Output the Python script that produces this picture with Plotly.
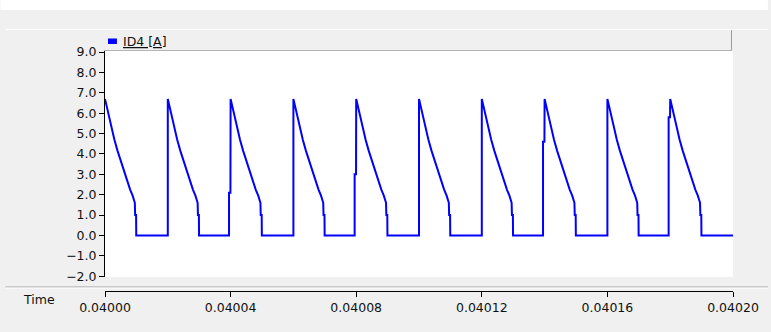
import plotly.graph_objects as go

# ---- data (time in microseconds after 0.04 s, current in A) ----
pulse_start_us = [0, 20, 40, 60, 80, 100, 120, 140, 160, 180]
pre_rise_level = [None, None, 2.1, None, 3.0, None, None, 4.6, None, 5.8]
decay_offset_us = [0.0, 0.3, 1.0, 2.0, 3.0, 4.0, 5.0, 6.0, 7.0, 8.0, 8.8, 9.5, 9.6, 9.9, 9.95]
decay_current = [6.7, 6.5, 6.0, 5.3, 4.7, 4.15, 3.65, 3.15, 2.7, 2.25, 1.95, 1.6, 1.0, 1.0, 0.0]
end_us = 200

y_tick_values = [-2, -1, 0, 1, 2, 3, 4, 5, 6, 7, 8, 9]
x_tick_labels = ["0.04000", "0.04004", "0.04008", "0.04012", "0.04016", "0.04020"]
series_name = "ID4 [A]"

# ---- assemble the trace points ----
t_us, cur = [], []
for k, t0 in enumerate(pulse_start_us):
    lvl = pre_rise_level[k]
    if k > 0:
        if lvl is not None:
            t_us += [t0 - 0.5, t0 - 0.5, t0 - 0.05]
            cur += [0.0, lvl, lvl]
        else:
            t_us.append(t0)
            cur.append(0.0)
    for off, v in zip(decay_offset_us, decay_current):
        t_us.append(t0 + off)
        cur.append(v)
t_us.append(end_us)
cur.append(0.0)
t_sec = [0.04 + u * 1e-6 for u in t_us]
x_tick_values = [float(s) for s in x_tick_labels]

W, H = 771, 332
ML, MR, MT, MB = 105, 35, 51, 41
PW = W - ML - MR
PH = H - MT - MB


def px(x):
    return (x - ML) / PW


def py(y):
    return (H - MB - y) / PH


fig = go.Figure()
fig.add_trace(go.Scatter(x=t_sec, y=cur, mode="lines", name=series_name,
                         line=dict(color="#0000ff", width=2), showlegend=False))

font = dict(family="DejaVu Sans", size=12.5, color="#111111")

fig.update_layout(
    width=W, height=H, autosize=False,
    margin=dict(l=ML, r=MR, t=MT, b=MB, pad=0),
    paper_bgcolor="#f0f0f0", plot_bgcolor="white",
    font=font,
    xaxis=dict(range=[0.04, 0.0402], tickvals=x_tick_values, ticktext=x_tick_labels,
               anchor="free", position=0, domain=[0, 1],
               showline=True, linecolor="#000000", linewidth=1,
               ticks="outside", ticklen=5, tickcolor="#000000",
               showgrid=False, zeroline=False, tickfont=font),
    yaxis=dict(range=[-2.04, 9.05], tickvals=y_tick_values, tickformat=".1f",
               domain=[(291 - 277) / PH, 1],
               showline=True, linecolor="#000000", linewidth=1,
               ticks="outside", ticklen=5, tickcolor="#000000",
               showgrid=False, zeroline=False, tickfont=font),
)

shapes = [
    # white strip at the very top
    dict(type="rect", xref="paper", yref="paper", x0=px(0), x1=px(W), y0=py(10), y1=py(0),
         fillcolor="white", line=dict(width=0), layer="below"),
    dict(type="line", xref="paper", yref="paper", x0=px(5), x1=px(W), y0=py(29.5), y1=py(29.5),
         line=dict(color="#ffffff", width=1)),
    # legend header panel borders
    dict(type="line", xref="paper", yref="paper", x0=px(734.5), x1=px(734.5), y0=py(51), y1=py(30),
         line=dict(color="#9a9a9a", width=1)),
    dict(type="line", xref="paper", yref="paper", x0=px(104), x1=px(735), y0=py(50.5), y1=py(50.5),
         line=dict(color="#b4b4b4", width=1)),
    # separator above the time axis
    dict(type="line", xref="paper", yref="paper", x0=px(5), x1=px(W), y0=py(287), y1=py(287),
         line=dict(color="#a0a0a0", width=1)),
    dict(type="line", xref="paper", yref="paper", x0=px(5), x1=px(W), y0=py(288), y1=py(288),
         line=dict(color="#ffffff", width=1)),
    # legend swatch
    dict(type="rect", xref="paper", yref="paper", x0=px(108), x1=px(117), y0=py(44), y1=py(38.5),
         fillcolor="#0000ff", line=dict(width=0)),
]
fig.update_layout(shapes=shapes)

fig.add_annotation(text="<u>" + series_name + "</u>", xref="paper", yref="paper",
                   x=px(121), y=py(41.5), xanchor="left", yanchor="middle",
                   showarrow=False, font=font)
fig.add_annotation(text="Time", xref="paper", yref="paper",
                   x=px(38.5), y=py(299.5), xanchor="center", yanchor="middle",
                   showarrow=False, font=font)

fig.write_html("out.html")
